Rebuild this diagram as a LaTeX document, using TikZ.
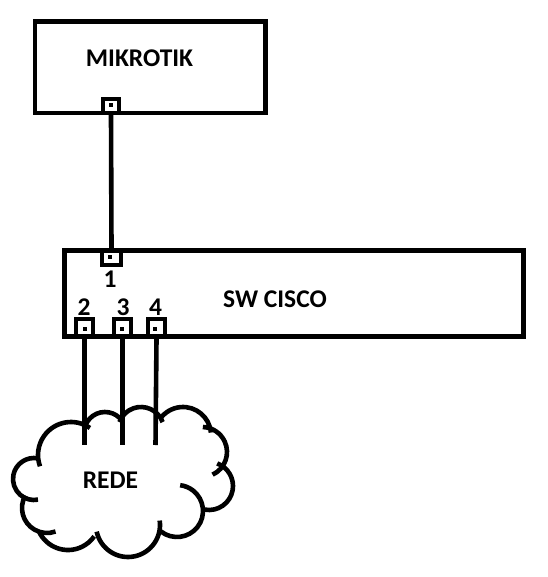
\documentclass[tikz,border=0pt]{standalone}
\usepackage{fontspec}
\setmainfont{Carlito}
\begin{document}
\begin{tikzpicture}[x=1pt,y=1pt,
  box/.style={draw, line width=4.8pt, rectangle, inner sep=0pt},
  portbox/.style={draw, line width=3.8pt, rectangle, inner sep=0pt},
  pdot/.style={fill, rectangle, inner sep=0pt, minimum size=4pt},
  cable/.style={line width=4.6pt},
  cloudarc/.style={line width=4.6pt},
  lbl/.style={font=\fontsize{25.5}{29}\selectfont\bfseries, inner sep=0pt}]
\useasboundingbox[fill=white] (0,0) rectangle (547,-577);

% boxes
\node[box, minimum width=230.5pt, minimum height=91.3pt] (mk) at (150.25,-67.35) {};
\node[box, minimum width=459pt, minimum height=86pt] (sw) at (294,-293.5) {};

% texts
\node[lbl] (tmk) at (139.5,-58.3) {MIKROTIK};
\node[lbl] (tsw) at (275,-299.5) {SW CISCO};
\node[lbl] (trede) at (110.5,-480) {REDE};
\node[lbl] (l1) at (110,-279) {1};
\node[lbl] (l2) at (84,-307.5) {2};
\node[lbl] (l3) at (123,-307.5) {3};
\node[lbl] (l4) at (155.5,-307.5) {4};

% ports
\node[portbox, minimum width=16pt, minimum height=14pt] (mkp) at (111,-106) {};
\node[portbox, minimum width=19pt, minimum height=15pt] (p1) at (111.5,-257.75) {};
\node[portbox, minimum width=17pt, minimum height=18pt] (p2) at (84.5,-328) {};
\node[portbox, minimum width=17pt, minimum height=18pt] (p3) at (122.5,-328) {};
\node[portbox, minimum width=17pt, minimum height=18pt] (p4) at (156.5,-328) {};

\node[pdot] (dmk) at (111,-105) {};
\node[pdot] (d1) at (110,-256.5) {};
\node[pdot] (d2) at (84.5,-329) {};
\node[pdot] (d3) at (121.5,-329) {};
\node[pdot] (d4) at (155,-328.5) {};

% cables
\draw[cable] (mkp.south) -- (p1.north);
\coordinate (e2) at (84.5,-445);
\coordinate (e3) at (122.5,-445);
\coordinate (e4) at (155.5,-445);
\draw[cable] (p2.south) -- (e2);
\draw[cable] (p3.south) -- (e3);
\draw[cable] (p4.south) -- (e4);

% cloud
\draw[cloudarc] (71,-455) ++(55:33) arc[start angle=55, end angle=200, radius=33];
\draw[cloudarc] (105,-433) ++(35:21) arc[start angle=35, end angle=168, radius=21];
\draw[cloudarc] (141,-430) ++(20:23) arc[start angle=20, end angle=160, radius=23];
\draw[cloudarc] (183,-435) ++(5:28) arc[start angle=5, end angle=145, radius=28];
\draw[cloudarc] (202,-452) ++(-65:25) arc[start angle=-65, end angle=88, radius=25];
\draw[cloudarc] (209,-486) ++(-100:24) arc[start angle=-100, end angle=70, radius=24];
\draw[cloudarc] (177,-511) ++(-128:26) arc[start angle=-128, end angle=83, radius=26];
\draw[cloudarc] (128,-525) ++(192:32) arc[start angle=192, end angle=368, radius=32];
\draw[cloudarc] (68,-518) ++(205:32) arc[start angle=205, end angle=325, radius=32];
\draw[cloudarc] (47,-508) ++(150:25) arc[start angle=150, end angle=290, radius=25];
\draw[cloudarc] (34,-479) ++(79:21) arc[start angle=79, end angle=281, radius=21];
\end{tikzpicture}
\end{document}
